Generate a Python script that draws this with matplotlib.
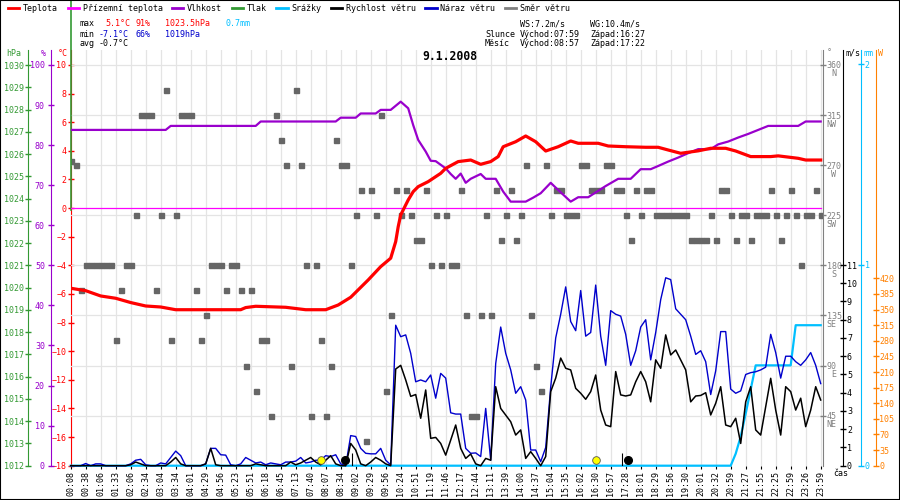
import matplotlib
matplotlib.use('Agg')
import matplotlib.pyplot as plt
from matplotlib.lines import Line2D
from matplotlib.patches import Rectangle

# ---------------- data ----------------
time_labels = ["00:08","00:38","01:06","01:33","02:06","02:34","03:04","03:34","04:01","04:29",
               "04:56","05:23","05:51","06:18","06:45","07:13","07:40","08:07","08:34","09:02",
               "09:29","09:56","10:24","10:51","11:19","11:46","12:17","12:44","13:11","13:39",
               "14:00","14:37","15:04","15:35","16:02","16:30","16:57","17:28","18:01","18:29",
               "18:56","19:30","20:01","20:32","20:59","21:27","21:55","22:25","22:59","23:26","23:59"]
samples_per_label = 3

temp_s = [0,3,6,9,12,15,18,21,34,35,37,43,47,51,53.5,56,59.5,62,64,65,65.5,66,67,67.5,68.5,69.5,
          71.5,74,75,77.5,80,82,84,85.5,86.5,89,91,93,95,97.5,100,101.5,105.5,107.5,111,115,117.5,
          119.5,122,125.5,128,131,133,136,140,141.5,145.5,147,150]
temp_v = [-5.6,-5.77,-6.14,-6.3,-6.6,-6.84,-6.91,-7.1,-7.1,-6.95,-6.86,-6.93,-7.1,-7.1,-6.77,-6.23,
          -5.02,-4.09,-3.5,-2.34,-1.3,-0.48,0.22,0.57,1.15,1.5,1.85,2.43,2.78,3.25,3.36,3.06,3.25,
          3.6,4.29,4.64,5.04,4.64,3.99,4.29,4.69,4.53,4.53,4.34,4.29,4.25,4.25,4.06,3.83,4.0,4.18,
          4.18,3.99,3.6,3.6,3.65,3.48,3.36,3.36]

hum_s = [0,19,20,37,38,53,54,57,58,61,62,64,66,67.5,68.5,69.5,71,72,73,75,76,77,78,79,80,82,83,85,
         86.5,88,91,92.5,94,96,97.5,100,101.5,103.5,107,109.5,112,114,116,117.5,119.5,121.5,123.5,
         125.5,128,129.5,131.5,133.5,135.5,137.5,139.5,145.5,147,150]
hum_v = [83.8,83.8,84.8,84.8,85.9,85.9,86.85,86.85,87.9,87.9,88.8,88.8,90.85,89.2,85.0,81.3,78.4,
         76.1,76.0,74.2,72.8,71.6,72.9,70.6,71.6,72.8,71.6,71.6,68.4,65.9,65.9,66.9,68.0,70.6,68.8,
         65.9,67.0,67.0,69.8,71.6,71.6,74.0,74.0,74.8,75.9,76.9,78.0,79.0,79.0,80.2,80.9,81.9,82.8,
         83.8,84.8,84.8,85.9,85.9]

ground_s = [0, 150]
ground_v = [0.0, 0.0]
pressure_max = 1023.5

wind_speed = [0,0,0,0,0,0,0,0,0,0,0,0,0.05,0.2,0.1,0,0,0,0,0,0.2,0.45,0.1,0,0,0,0,0.1,0.95,0.05,
              0,0,0,0,0,0,0,0.1,0.05,0,
              0,0,0,0,0.2,0.05,0.15,0.3,0.45,0.2,0.05,0.3,0.55,0.1,0,0,1.22,0.86,0.1,0,
              0.2,0.45,0.3,0.1,0,5.3,5.5,4.7,3.8,3.9,2.6,4.15,1.5,1.55,1.22,0.58,1.4,
              2.23,0.95,0.4,0.64,0.1,0,0.4,0.3,4.33,3.14,2.78,2.41,1.68,1.96,0.4,0.77,0.4,0,0.5,4.06,
              4.8,5.9,5.34,5.25,4.24,3.97,3.64,4.06,4.97,3.05,2.23,2.14,5.16,3.88,3.82,3.88,4.6,5.16,
              4.6,3.5,5.8,5.34,7.17,6.07,6.34,5.8,5.25,3.5,3.82,3.85,4.0,2.78,3.42,4.33,2.23,2.14,2.6,
              1.22,3.5,4.33,1.96,1.68,3.24,4.79,3.05,1.68,4.33,4.06,3.05,3.7,2.14,3.05,4.33,3.6]
wind_gust = [0,0,0,0.12,0,0.1,0.1,0,0,0,0,0,0.1,0.3,0.35,0.05,0,0,0.15,0.1,0.45,0.8,0.55,0,0,0,0,
             0.1,0.95,0.95,0.6,0.58,0.05,0,0.1,0.45,0.3,0.15,0.2,0.05,
             0.15,0.1,0.05,0.2,0.2,0.25,0.45,0.15,0.2,0.3,0.3,0.55,0.5,0.6,0.1,0,1.65,1.6,0.95,0.68,
             0.65,0.65,0.95,0.3,0.05,7.7,7.07,7.17,6.16,4.6,4.7,4.6,4.97,3.7,5.06,4.8,2.9,
             2.83,2.83,0.95,0.68,0.7,0.5,3.14,0.3,5.6,7.6,6.16,5.25,3.97,4.33,3.6,0.86,0.86,0.22,1.0,
             4.3,7.0,8.3,9.8,7.9,7.4,9.6,7.1,7.3,9.9,7.1,5.5,8.5,8.3,8.2,7.2,5.5,6.3,7.6,
             8.0,5.8,7.3,9.1,10.3,10.2,8.6,8.3,8.0,7.1,6.1,6.3,5.7,3.9,5.2,7.35,7.35,4.2,3.97,4.1,
             5.0,5.1,5.15,5.25,5.4,7.2,6.2,4.8,6.0,6.0,5.7,5.5,5.8,6.2,5.5,4.5]
wind_dir = [274,270,157.5,180,180,180,180,180,180,112.5,157.5,180,180,225,315,315,315,157.5,225,337.5,
            112.5,225,315,315,315,157.5,112.5,135,180,180,180,157.5,180,180,157.5,90,157.5,67.5,112.5,112.5,
            45,315,292.5,270,90,337.5,270,180,45,180,112.5,45,90,292.5,270,270,180,225,247.5,22.5,
            247.5,225,315,67.5,135,247.5,225,247.5,225,202.5,202.5,247.5,180,225,180,225,180,
            180,247.5,135,45,45,135,225,135,247.5,202.5,225,247.5,202.5,225,270,135,90,67.5,270,225,
            247.5,247.5,225,225,225,270,270,247.5,247.5,247.5,270,270,247.5,247.5,225,202.5,247.5,225,
            247.5,247.5,225,225,225,225,225,225,225,202.5,202.5,202.5,202.5,225,202.5,247.5,247.5,225,
            202.5,225,225,202.5,225,225,225,247.5,225,202.5,225,247.5,225,180,225,225,247.5,225]
rain_s = [0, 132, 133, 134, 135, 136, 137, 144, 145, 150]
rain_v = [0, 0, 0.06, 0.145, 0.26, 0.38, 0.5, 0.5, 0.7, 0.7]

sun_s = [50.1, 105.1]
moon_s = [54.9, 111.5]
moon_tick_s = [56.2, 110.2]

# ---------------- style ----------------
RED = '#ff0000'; MAG = '#ff00ff'; PUR = '#9900cc'; GRN = '#339933'; CYA = '#00bfff'
BLK = '#000000'; BLU = '#0000cc'; GRY = '#808080'; SQ = '#666666'; ORA = '#ff8000'

plt.rcParams['font.family'] = ['DejaVu Sans Mono', 'DejaVu Sans']
plt.rcParams['font.size'] = 6

WPX, HPX = 900, 500
fig = plt.figure(figsize=(9, 5), dpi=100)
fig.patch.set_facecolor('white')

L, R, T, B = 70.7, 823.0, 50.0, 465.7
rect = [L / WPX, 1 - B / HPX, (R - L) / WPX, (B - T) / HPX]
AW = R - L


def ylim_from(v0, p0, v1, p1):
    k = (v1 - v0) / (p1 - p0)
    return v0 + (B - p0) * k, v0 + (T - p0) * k


def fx(px):
    return px / WPX


def fy(py):
    return 1 - py / HPX


ax = fig.add_axes(rect)
ax.set_xlim(0, AW / 5.0)
temp_lim = ylim_from(10, 65, -18, 465.7)
ax.set_ylim(*temp_lim)
for s in ax.spines.values():
    s.set_visible(False)
ax.spines['left'].set_visible(True)
ax.spines['left'].set_color(RED)
ax.set_yticks(range(-18, 11, 2))
ax.tick_params(axis='y', colors=RED, direction='inout', length=4.3, width=1, pad=1, labelsize=6)
ax.set_xticks(range(0, samples_per_label * (len(time_labels) - 1) + 1, samples_per_label))
ax.set_xticklabels(time_labels, rotation=90)
ax.tick_params(axis='x', colors=BLK, length=2, width=0.8, pad=2, labelsize=6)
ax.grid(axis='x', color='#e4e4e4', lw=0.9)
ax.set_axisbelow(True)


def make_axis(side, pos, color, ylim, ticks, pad=1):
    a = ax.twinx()
    a.set_ylim(*ylim)
    for s in a.spines.values():
        s.set_visible(False)
    if side is None:
        a.set_yticks([])
        return a
    sp = a.spines[side]
    sp.set_visible(True)
    sp.set_position(('axes', pos))
    sp.set_color(color)
    if side == 'left':
        a.yaxis.set_ticks_position('left')
    else:
        a.yaxis.set_ticks_position('right')
    a.set_yticks(ticks)
    a.tick_params(axis='y', colors=color, direction='inout', length=4.3, width=1, pad=pad, labelsize=6)
    return a


# direction axis (with horizontal grid and squares)
ax_d = make_axis('right', 1.0, GRY, ylim_from(360, 65, 0, 465.7), list(range(45, 361, 45)), pad=0.5)
ax_d.grid(axis='y', color='#e4e4e4', lw=0.9)
ax_d.set_axisbelow(True)
compass = {360: 'N', 315: 'NW', 270: 'W', 225: 'SW', 180: 'S', 135: 'SE', 90: 'E', 45: 'NE'}
for val, lett in compass.items():
    ax_d.annotate(lett, xy=(1, val), xycoords=ax_d.get_yaxis_transform(), xytext=(13, -4.5),
                  textcoords='offset pixels', ha='right', va='top', color=GRY, fontsize=6)
ax_d.plot(range(len(wind_dir)), wind_dir, ls='none', marker='s', ms=3.6, color=SQ, mec=SQ)

# pressure axis
ax_p = make_axis('left', (28 - L) / AW, GRN, ylim_from(1030, 65, 1012, 465.7), list(range(1012, 1031)), pad=1)
ax_p.plot([0, 0], [pressure_max, 1060], color=GRN, lw=1.2, clip_on=False)

# humidity axis
ax_h = make_axis('left', (50.7 - L) / AW, PUR, ylim_from(100, 65, 0, 465.7), list(range(0, 101, 10)), pad=2)
ax_h.plot(hum_s, hum_v, color=PUR, lw=1.6)

# rain axis
ax_m = make_axis('right', (861 - L) / AW, CYA, ylim_from(0, 465.7, 1, 265), [0, 1, 2], pad=0.5)
ax_m.plot(rain_s, rain_v, color=CYA, lw=1.6, clip_on=False)

# wind axis
ax_w = make_axis('right', (843.3 - L) / AW, BLK, ylim_from(0, 465.7, 11, 265), list(range(0, 12)), pad=0.5)
ax_w.plot(range(len(wind_gust)), wind_gust, color=BLU, lw=1.0, clip_on=False)
ax_w.plot(range(len(wind_speed)), wind_speed, color=BLK, lw=1.1, clip_on=False)
ax_w.vlines(moon_tick_s, 0, 0.7, color=BLK, lw=0.8)
ax_w.plot(sun_s, [0.3] * len(sun_s), ls='none', marker='o', ms=5.5, mfc='#ffff00', mec='#555555', mew=0.6)
ax_w.plot(moon_s, [0.3] * len(moon_s), ls='none', marker='o', ms=5.5, mfc=BLK, mec=BLK)

# W axis (empty)
ax_W = make_axis('right', (875.7 - L) / AW, ORA, ylim_from(0, 465.7, 420, 278.3), list(range(0, 421, 35)), pad=0.5)

# temperature overlay
ax_t = make_axis(None, 0, RED, temp_lim, [])
ax_t.plot(ground_s, ground_v, color=MAG, lw=0.9)
ax_t.plot(temp_s, temp_v, color=RED, lw=2.3)

# ---------------- texts ----------------
fig.text(fx(449.5), fy(57), '9.1.2008', ha='center', va='center', fontsize=8.3, fontweight='bold')

for s, x, c, ha in [('hPa', 21, GRN, 'right'), ('%', 45.5, PUR, 'right'), ('°C', 67.5, RED, 'right'),
                    ('°', 826.5, GRY, 'left'), ('m/s', 845.5, BLK, 'left'), ('mm', 863, CYA, 'left'),
                    ('W', 878, ORA, 'left')]:
    fig.text(fx(x), fy(53), s, ha=ha, va='center', color=c, fontsize=6)
fig.text(fx(833), fy(473), 'čas', ha='left', va='center', fontsize=6)

stats = [('max', 80, 24, BLK), ('5.1°C', 105, 24, RED), ('91%', 135, 24, RED), ('1023.5hPa', 165, 24, RED),
         ('0.7mm', 226, 24, CYA),
         ('min', 80, 34, BLK), ('-7.1°C', 99, 34, BLU), ('66%', 135, 34, BLU), ('1019hPa', 165, 34, BLU),
         ('avg', 80, 43, BLK), ('-0.7°C', 99, 43, BLK),
         ('WS:7.2m/s', 520, 24, BLK), ('WG:10.4m/s', 590, 24, BLK),
         ('Slunce', 485, 34, BLK), ('Východ:07:59', 520, 34, BLK), ('Západ:16:27', 590, 34, BLK),
         ('Měsíc', 485, 43, BLK), ('Východ:08:57', 520, 43, BLK), ('Západ:17:22', 590, 43, BLK)]
for s, x, y, c in stats:
    fig.text(fx(x), fy(y), s, ha='left', va='center', color=c, fontsize=6)

legend_items = [('Teplota', RED), ('Přízemní teplota', MAG), ('Vlhkost', PUR), ('Tlak', GRN),
                ('Srážky', CYA), ('Rychlost větru', BLK), ('Náraz větru', BLU), ('Směr větru', GRY)]
handles = [Line2D([], [], color=c, lw=2.0) for _, c in legend_items]
fig.legend(handles, [n for n, _ in legend_items], loc='upper left', bbox_to_anchor=(fx(8), fy(4)),
           ncol=len(legend_items), frameon=False, handlelength=1.35, handletextpad=0.45,
           columnspacing=1.15, borderpad=0, borderaxespad=0, fontsize=6)

fig.add_artist(Rectangle((0, 0), 1, 1, transform=fig.transFigure, fill=False, edgecolor=BLK, lw=1.5))

fig.savefig('out.png', dpi=100, facecolor='white')
